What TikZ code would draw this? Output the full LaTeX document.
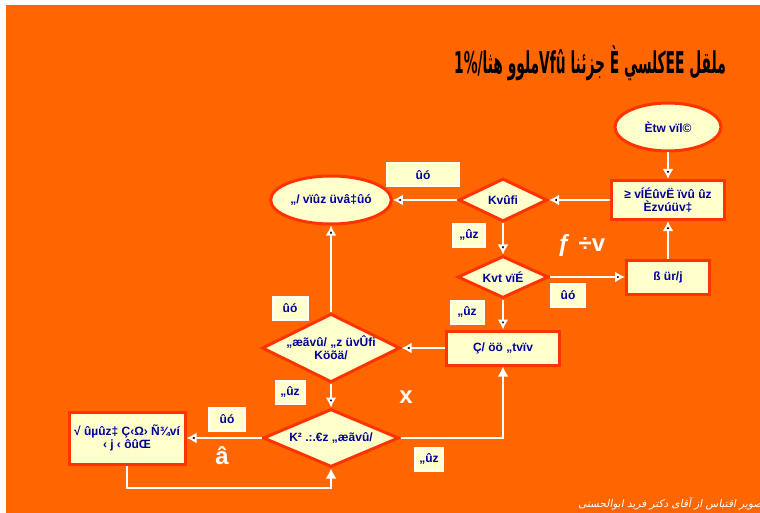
\documentclass[tikz,border=0pt]{standalone}
\usepackage{fontspec}
\setmainfont{Liberation Sans}
\newfontfamily\arabicfont[Script=Arabic]{DejaVu Sans}
\newfontfamily\notefont[Script=Arabic,FakeSlant=0.2]{DejaVu Sans}
\TeXXeTstate=1
\usetikzlibrary{arrows.meta,shapes.geometric}
\definecolor{bgorange}{HTML}{FF6600}
\definecolor{paleyellow}{HTML}{FFFFCC}
\definecolor{redline}{HTML}{FF3300}
\definecolor{navytext}{HTML}{000099}
\tikzset{box node/.style={rectangle,fill=paleyellow,draw=redline,line width=3pt,inner sep=2pt,
		text=navytext,font=\fontsize{12}{13}\selectfont\bfseries,align=center},
	oval node/.style={box node,ellipse},
	test node/.style={box node,diamond,aspect=2,inner sep=0pt},
	answer node/.style={rectangle,fill=paleyellow,draw=white,line width=2pt,inner sep=1pt,
		text=navytext,font=\fontsize{12}{13}\selectfont\bfseries,minimum height=23pt},
	white text/.style={text=white,font=\fontsize{24}{26}\selectfont\bfseries},
}

\begin{document}
\begin{tikzpicture}[x=1pt,y=-1pt,>={Latex[length=10pt,width=11pt]},
		flow/.style={->,draw=white,line width=2.5pt}]
		
		\useasboundingbox (0,0) rectangle (760,513);
		\fill[white] (0,0) rectangle (760,513);
		\fill[bgorange] (6,5) rectangle (760,513);
		
		% title and source
		\node[text=black,font=\arabicfont\bfseries\fontsize{30}{34}\selectfont] (title) at (590,63)
		{\scalebox{0.46}[1]{\beginR ملقل \beginL EE\endL كلسي È جزئنا \beginL Vfû\endL ملوو هثا\beginL /1\%\endL\endR}};
		\node[anchor=base east,text=white,font=\notefont\fontsize{10.5}{12}\selectfont] (source) at (769,507)
		{\beginR تصویر اقتباس از آقای دکتر فرید ابوالحسنی\endR};
		
		\node[oval node,minimum width=106pt,minimum height=48pt] (start) at (668,127) {Ètw vïl©};
		\node[box node,minimum width=113pt,minimum height=39pt] (task1) at (668,200) {≥ vÍÉûvË ïvû ûz\\Èzvúüv‡};
		\node[test node,minimum width=89pt,minimum height=43pt] (test1) at (503,200) {Kvûfi};
		\node[oval node,minimum width=107pt,minimum height=48pt] (goal) at (331,200) {„/ vïûz üvâ‡ûó};
		\node[test node,minimum width=91pt,minimum height=42pt] (test2) at (503,277) {Kvt vïÉ};
		\node[box node,minimum width=83pt,minimum height=34pt] (task2) at (668,277) {ß ür/j};
		\node[box node,minimum width=113pt,minimum height=34pt] (task3) at (503,348) {Ç/ öö „tvïv};
		\node[test node,minimum width=138pt,minimum height=59pt] (test3) at (331,348) {„æãvû/ „z üvÛfi\\Köõä/};
		\node[test node,minimum width=136pt,minimum height=58pt] (test4) at (331,438) {K² .:.€z „æãvû/};
		\node[box node,minimum width=116pt,minimum height=52pt] (task4) at (127,438) {√ ûµûz‡ Ç‹Ω› Ñ¾ví\\‹ j ‹ ôûŒ};
		
		% yes / no boxes
		\node[answer node,minimum width=72pt] (yes1) at (423,175) {ûó};
		\node[answer node,minimum width=32pt] (no1) at (469,235) {„ûz};
		\node[answer node,minimum width=34pt] (yes2) at (568,295) {ûó};
		\node[answer node,minimum width=33pt] (no2) at (467,312) {„ûz};
		\node[answer node,minimum width=35pt] (yes3) at (290,308) {ûó};
		\node[answer node,minimum width=29pt] (no3) at (290,392) {„ûz};
		\node[answer node,minimum width=36pt] (yes4) at (227,419) {ûó};
		\node[answer node,minimum width=28pt] (no4) at (429,459) {„ûz};
		
		\node[white text] (mark1) at (564,245) {ƒ};
		\node[white text] (mark2) at (592,245) {÷v};
		\node[white text] (mark3) at (406,397) {x};
		\node[white text] (mark4) at (222,456) {â};
		
		\coordinate (loop) at (331,488);
		
		\path[flow]
		(start) edge (task1)
		(task1) edge (test1)
		(test1) edge (goal)
		(test1) edge (test2)
		(test2) edge (task2)
		(task2) edge (task1)
		(test2) edge (task3)
		(task3) edge (test3)
		(test3) edge (goal)
		(test3) edge (test4)
		(test4) edge (task4)
		;
		\draw[flow] (task4.south) |- (loop) -- (test4.south);
		\draw[flow] (test4.east) -| (task3.south);
		\end{tikzpicture}
\end{document}
